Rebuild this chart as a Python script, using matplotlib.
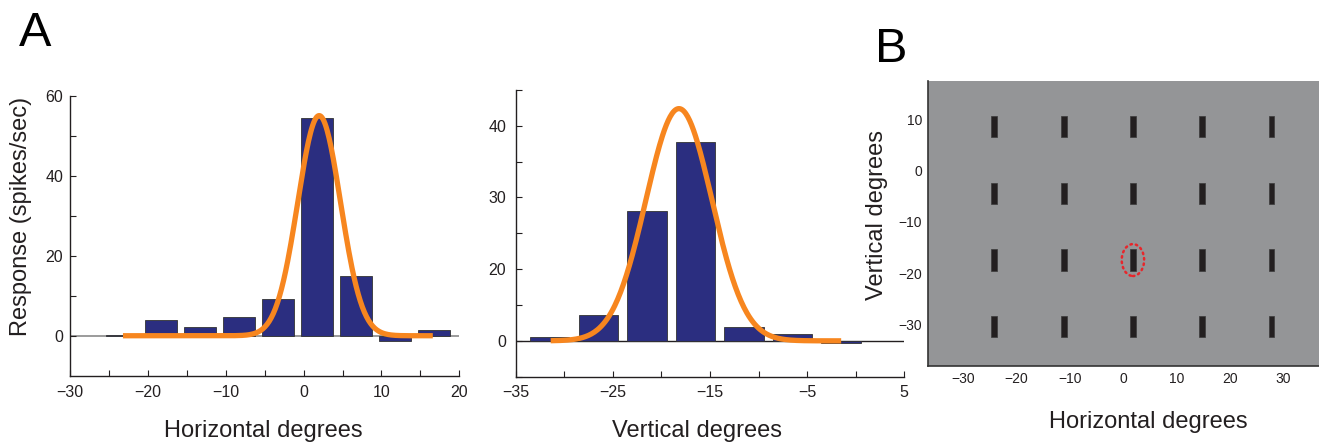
import matplotlib
matplotlib.use('Agg')
import matplotlib.pyplot as plt
import numpy as np
from matplotlib.patches import Ellipse

plt.rcParams['font.family'] = ['Liberation Sans', 'DejaVu Sans']

# Panel A, left: horizontal tuning
horiz_centers = [-23.3, -18.3, -13.3, -8.3, -3.3, 1.7, 6.7, 11.7, 16.7]
horiz_resp = [0.2, 4.0, 2.1, 4.8, 9.3, 54.4, 14.9, -1.2, 1.5]
horiz_fit = (55.1, 2.0, 2.75)      # amplitude, mean, sigma of gaussian fit
horiz_fit_range = (-23.2, 16.6)

# Panel A, right: vertical tuning
vert_centers = [-31.5, -26.5, -21.5, -16.5, -11.5, -6.5, -1.5]
vert_resp = [0.6, 3.6, 18.1, 27.7, 2.0, 1.0, -0.3]
vert_fit = (32.4, -18.2, 3.4)
vert_fit_range = (-31.4, -1.5)
vert_yticks = [0, 10, 20, 30]
vert_yticklabels = ['0', '20', '30', '40']

# Panel B: stimulus grid
stim_x = [-24.2, -11.2, 1.8, 14.8, 27.8]
stim_y = [8.6, -4.4, -17.4, -30.4]
stim_w, stim_h = 1.1, 4.1
best_x, best_y = 1.8, -17.4

bar_col = '#2b2e80'
fit_col = '#f7861f'
txt_col = '#231f20'

fig = plt.figure(figsize=(13.19, 4.42), dpi=100)


def gauss_line(ax, params, rng):
    a, m, s = params
    xx = np.linspace(rng[0], rng[1], 300)
    ax.plot(xx, a * np.exp(-(xx - m) ** 2 / (2 * s ** 2)), color=fit_col, lw=3.8,
            solid_capstyle='butt', zorder=4)


def style_axes(ax):
    for s in ['top', 'right']:
        ax.spines[s].set_visible(False)
    for s in ['left', 'bottom']:
        ax.spines[s].set_color(txt_col)
        ax.spines[s].set_linewidth(1.0)
    ax.tick_params(direction='in', length=4, width=0.8, color=txt_col,
                   labelcolor=txt_col, labelsize=11.5)


# ---- A left
ax1 = fig.add_axes([0.0531, 0.15, 0.2951, 0.6328])
ax1.axhline(0, color='#8a8a8a', lw=1.2, zorder=1)
ax1.bar(horiz_centers, horiz_resp, width=4.1, color=bar_col, edgecolor='#333333',
        linewidth=0.6, zorder=2)
gauss_line(ax1, horiz_fit, horiz_fit_range)
ax1.set_xlim(-30, 20)
ax1.set_ylim(-10, 60)
ax1.set_xticks(np.arange(-30, 21, 5))
ax1.set_xticklabels([str(v).replace('-', '\u2212') if v % 10 == 0 else '' for v in range(-30, 21, 5)])
ax1.set_yticks(np.arange(0, 61, 10))
ax1.set_yticklabels([str(v) if v % 20 == 0 else '' for v in range(0, 61, 10)])
style_axes(ax1)
ax1.tick_params(axis='x', pad=7)
ax1.tick_params(axis='y', pad=5)

# ---- A right
ax2 = fig.add_axes([0.391, 0.1478, 0.2946, 0.6486])
ax2.axhline(0, color=txt_col, lw=1.0, zorder=1)
ax2.bar(vert_centers, vert_resp, width=4.05, color=bar_col, edgecolor='#333333',
        linewidth=0.6, zorder=2)
gauss_line(ax2, vert_fit, vert_fit_range)
ax2.set_xlim(-35, 5)
ax2.set_ylim(-5, 35)
ax2.set_xticks(np.arange(-35, 6, 5))
ax2.set_xticklabels([str(v).replace('-', '\u2212') if (v + 35) % 10 == 0 else '' for v in range(-35, 6, 5)])
ax2.set_yticks(np.arange(-5, 36, 5))
ax2.set_yticklabels([vert_yticklabels[vert_yticks.index(v)] if v in vert_yticks else ''
                     for v in range(-5, 36, 5)])
style_axes(ax2)
ax2.tick_params(axis='x', pad=6)
ax2.tick_params(axis='y', pad=7)

# ---- B
ax3 = fig.add_axes([0.7033, 0.1719, 0.2967, 0.6448])
ax3.set_facecolor('#949597')
gx, gy = np.meshgrid(stim_x, stim_y)
ax3.bar(gx.ravel(), stim_h, width=stim_w, bottom=gy.ravel() - stim_h / 2,
        color='#231f20', edgecolor='#3a3a3a', linewidth=0.5)
ax3.add_patch(Ellipse((best_x, best_y), 4.2, 6.2, fill=False, edgecolor='#e8262b',
                      lw=1.8, linestyle=(0, (0.6, 1.6)), capstyle='round', zorder=5))
ax3.set_xlim(-36.7, 36.7)
ax3.set_ylim(-38, 17.4)
ax3.set_xticks([-30, -20, -10, 0, 10, 20, 30])
ax3.set_yticks([10, 0, -10, -20, -30])
for s in ['top', 'right']:
    ax3.spines[s].set_visible(False)
for s in ['left', 'bottom']:
    ax3.spines[s].set_color('#333333')
    ax3.spines[s].set_linewidth(1.2)
ax3.tick_params(length=0, labelsize=10, labelcolor=txt_col)
ax3.tick_params(axis='x', pad=4)
ax3.tick_params(axis='y', pad=4)

# labels
fig.text(263 / 1319, 1 - 436.5 / 442, 'Horizontal degrees', fontsize=17, color=txt_col,
         ha='center', va='baseline')
fig.text(697 / 1319, 1 - 437.3 / 442, 'Vertical degrees', fontsize=17, color=txt_col,
         ha='center', va='baseline')
fig.text(1148 / 1319, 1 - 428.3 / 442, 'Horizontal degrees', fontsize=17, color=txt_col,
         ha='center', va='baseline')
fig.text(21 / 1319, 1 - 216 / 442, 'Response (spikes/sec)', fontsize=17, color=txt_col,
         ha='center', va='center', rotation=90)
fig.text(877 / 1319, 1 - 215 / 442, 'Vertical degrees', fontsize=17, color=txt_col,
         ha='center', va='center', rotation=90)
fig.text(19 / 1319, 1 - 46 / 442, 'A', fontsize=35, color='black', ha='left', va='baseline')
fig.text(875 / 1319, 1 - 62.3 / 442, 'B', fontsize=35, color='black', ha='left', va='baseline')

fig.savefig('out.png', dpi=100)
